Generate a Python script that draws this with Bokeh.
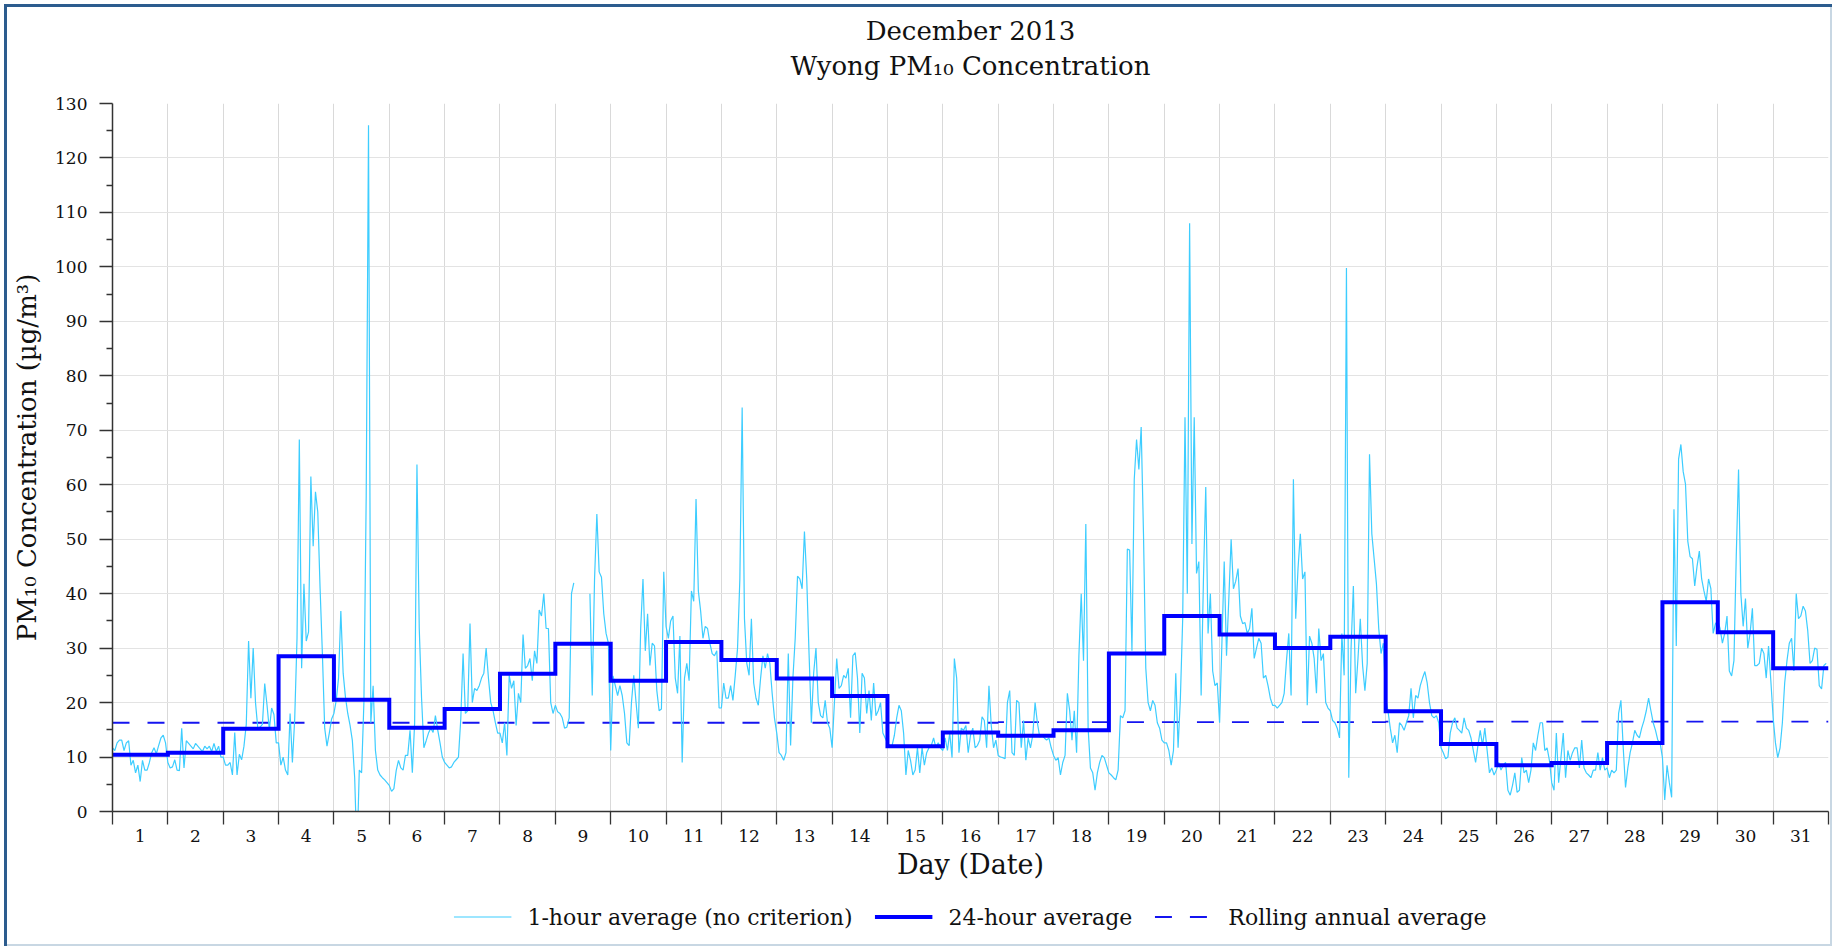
import numpy as np
from bokeh.plotting import figure
from bokeh.layouts import column
from bokeh.models import Range1d, FixedTicker, Legend, LegendItem, Label
from bokeh.embed import file_html
from bokeh.resources import INLINE

nan = float("nan")
FONT = "DejaVu Serif"

title_lines = ["December 2013", "Wyong PM\u2081\u2080 Concentration"]
x_title = "Day (Date)"
y_title = "PM\u2081\u2080 Concentration (\u00b5g/m\u00b3)"
series_names = ["1-hour average (no criterion)", "24-hour average", "Rolling annual average"]

day_labels = ["1", "2", "3", "4", "5", "6", "7", "8", "9", "10", "11", "12", "13", "14", "15", "16",
              "17", "18", "19", "20", "21", "22", "23", "24", "25", "26", "27", "28", "29", "30", "31"]

# 1-hour averages, 24 values per day (µg/m³)
d01 = [11.7, 11.2, 12.6, 13.1, 13.1, 11.2, 12.6, 13.0, 8.5, 9.4, 7.1, 8.5, 5.5, 9.4, 7.6, 7.6, 9.0, 10.8, 11.7, 10.6, 12.1, 13.5, 14.0, 12.6]
d02 = [9.0, 8.0, 8.2, 9.5, 7.6, 7.5, 15.3, 8.0, 13.0, 12.5, 12.0, 11.5, 12.5, 12.0, 11.5, 11.0, 12.0, 11.5, 12.0, 11.0, 12.5, 11.0, 12.0, 10.0]
d03 = [10.0, 8.5, 8.5, 9.0, 6.7, 14.5, 6.7, 10.5, 9.5, 12.0, 16.0, 31.3, 20.8, 30.0, 20.0, 15.3, 15.5, 16.0, 23.5, 19.5, 15.0, 19.0, 17.8, 12.6]
d04 = [12.6, 8.5, 10.0, 7.6, 6.7, 18.0, 9.0, 17.0, 31.8, 68.3, 26.3, 41.8, 31.3, 33.0, 61.5, 48.7, 58.7, 55.0, 41.0, 29.0, 15.3, 12.0, 14.4, 17.0]
d05 = [18.0, 20.4, 24.5, 36.8, 25.4, 21.0, 18.0, 15.8, 13.0, 6.2, -8.0, 7.6, 7.1, 20.0, 58.0, 126.0, 16.3, 23.1, 11.2, 7.6, 6.7, 6.2, 5.8, 5.3]
d06 = [4.8, 3.7, 4.2, 7.5, 9.4, 8.0, 7.6, 10.3, 10.3, 14.9, 7.1, 16.3, 63.7, 33.6, 20.8, 11.7, 13.0, 14.4, 15.3, 14.5, 17.6, 15.0, 12.6, 10.0]
d07 = [9.0, 8.5, 8.0, 8.2, 9.0, 9.5, 10.0, 17.0, 29.0, 18.0, 18.5, 34.5, 20.0, 22.6, 22.2, 23.1, 24.5, 25.4, 30.0, 24.5, 20.0, 18.5, 16.3, 14.4]
d08 = [14.4, 12.6, 16.3, 10.3, 25.0, 22.6, 24.0, 15.8, 21.7, 20.0, 32.5, 26.3, 26.8, 28.1, 24.0, 29.5, 27.2, 37.0, 35.9, 40.0, 33.6, 33.6, 20.0, 18.0]
d09 = [19.5, 18.3, 18.0, 17.2, 15.3, 15.5, 17.2, 40.0, 42.0, nan, nan, nan, nan, nan, nan, 40.0, 21.3, 42.7, 54.6, 44.0, 43.0, 36.3, 32.7, 30.9]
d10 = [11.2, 24.9, 23.1, 21.3, 23.1, 21.3, 18.0, 12.6, 12.1, 20.0, 25.0, 20.0, 15.3, 33.6, 42.7, 29.5, 36.3, 26.8, 30.9, 30.4, 22.2, 18.5, 18.8, 44.0]
d11 = [34.0, 31.8, 35.0, 35.9, 24.5, 21.7, 32.2, 9.0, 24.5, 27.2, 24.0, 40.5, 38.6, 57.4, 40.5, 36.8, 31.8, 34.0, 33.6, 30.9, 29.0, 28.6, 29.5, 19.0]
d12 = [19.0, 23.6, 20.8, 20.8, 23.1, 20.4, 25.0, 30.0, 42.7, 74.2, 35.4, 27.2, 25.0, 35.4, 23.6, 20.8, 19.5, 24.5, 28.6, 26.3, 29.0, 27.2, 21.7, 17.2]
d13 = [14.4, 10.8, 10.3, 9.4, 10.8, 29.0, 12.1, 24.5, 31.8, 43.2, 42.7, 40.9, 51.4, 42.7, 29.0, 16.3, 25.4, 30.0, 20.0, 17.6, 17.2, 20.4, 16.3, 15.3]
d14 = [11.7, 20.0, 28.1, 22.6, 23.1, 25.0, 24.5, 26.3, 17.2, 28.6, 29.2, 24.5, 14.4, 25.4, 24.5, 18.0, 22.2, 16.7, 23.6, 17.6, 18.5, 20.0, 14.4, 13.5]
d15 = [12.6, 12.1, 12.1, 14.0, 17.2, 19.5, 18.5, 14.4, 6.7, 11.2, 9.4, 6.7, 7.6, 11.7, 7.1, 11.7, 8.5, 10.8, 11.7, 12.1, 13.5, 11.7, 12.6, 11.7]
d16 = [11.2, 13.5, 11.2, 14.4, 9.9, 28.1, 24.5, 10.8, 15.3, 14.9, 15.8, 10.8, 14.0, 15.3, 11.7, 12.1, 13.1, 17.4, 16.7, 11.7, 23.1, 15.8, 11.7, 13.1]
d17 = [10.3, 10.0, 9.9, 9.7, 20.0, 22.2, 10.8, 10.3, 20.4, 20.0, 11.7, 16.7, 9.4, 13.5, 11.7, 14.0, 20.0, 16.3, 13.7, 14.0, 13.5, 13.1, 13.5, 11.7]
d18 = [10.3, 9.4, 9.9, 6.7, 9.0, 10.3, 21.7, 18.5, 13.1, 18.5, 10.8, 28.6, 40.0, 27.7, 52.8, 15.3, 8.0, 7.1, 3.9, 7.1, 9.0, 10.3, 9.9, 8.5]
d19 = [7.1, 6.7, 6.2, 5.8, 7.6, 17.6, 17.2, 18.5, 48.2, 48.0, 29.5, 61.0, 68.3, 62.8, 70.6, 51.0, 26.3, 20.0, 18.5, 20.4, 19.5, 16.3, 15.3, 13.1]
d20 = [12.6, 12.6, 11.2, 8.5, 11.2, 25.4, 11.7, 20.8, 35.4, 72.4, 40.0, 108.0, 49.1, 72.4, 43.7, 45.9, 21.3, 42.7, 59.6, 32.7, 40.0, 25.8, 23.1, 23.6]
d21 = [16.3, 30.9, 45.9, 28.6, 39.1, 50.0, 40.9, 42.3, 44.6, 35.9, 34.5, 34.7, 32.7, 33.6, 37.3, 28.1, 30.0, 31.8, 30.9, 24.5, 25.0, 23.1, 20.8, 19.5]
d22 = [19.5, 19.0, 19.5, 20.0, 21.7, 27.7, 32.7, 21.3, 61.0, 35.4, 44.6, 51.0, 42.7, 44.0, 19.5, 32.2, 30.9, 28.1, 21.7, 33.6, 27.7, 29.0, 20.0, 19.0]
d23 = [18.5, 16.7, 16.3, 15.3, 13.5, 32.7, 25.0, 99.8, 6.2, 30.0, 41.4, 21.7, 28.1, 35.4, 26.8, 22.2, 27.2, 65.6, 51.0, 46.4, 41.8, 33.6, 29.0, 30.9]
d24 = [20.8, 18.5, 15.3, 12.6, 14.0, 10.8, 16.3, 15.8, 14.9, 16.3, 17.6, 22.6, 17.2, 21.3, 20.8, 23.1, 24.5, 25.7, 23.6, 20.0, 17.6, 17.2, 17.6, 16.3]
d25 = [11.7, 10.8, 9.7, 10.0, 14.4, 16.3, 17.2, 15.3, 14.9, 14.4, 17.2, 15.3, 14.9, 13.5, 11.2, 9.0, 12.1, 14.9, 12.1, 15.3, 11.2, 7.1, 8.0, 6.7]
d26 = [7.6, 9.0, 7.6, 8.5, 9.0, 3.9, 3.0, 4.8, 7.1, 3.5, 3.9, 9.9, 7.1, 7.6, 5.3, 7.6, 12.6, 11.2, 14.0, 16.3, 16.3, 11.2, 11.7, 9.4]
d27 = [5.3, 3.9, 14.4, 5.3, 9.9, 14.4, 6.2, 11.2, 9.4, 10.8, 11.7, 11.7, 8.0, 13.1, 8.0, 7.1, 6.7, 6.2, 7.6, 7.6, 10.8, 7.6, 9.9, 7.6]
d28 = [8.0, 6.2, 7.6, 7.1, 7.6, 18.0, 20.4, 11.7, 4.4, 8.0, 10.8, 12.6, 14.9, 14.0, 13.5, 15.3, 16.7, 18.5, 20.8, 18.5, 16.3, 14.9, 13.1, 12.6]
d29 = [9.9, 2.1, 8.5, 5.3, 2.6, 55.5, 30.4, 64.7, 67.4, 62.4, 60.1, 49.6, 46.8, 46.4, 41.4, 45.0, 47.8, 42.7, 40.5, 38.6, 42.7, 40.9, 32.7, 34.5]
d30 = [35.0, 33.6, 30.9, 32.7, 35.9, 25.8, 24.9, 27.7, 46.8, 62.8, 40.0, 34.0, 39.1, 30.0, 32.7, 37.3, 26.8, 26.8, 27.2, 30.0, 29.0, 24.5, 30.4, 24.0]
d31 = [17.2, 12.6, 9.9, 11.7, 16.3, 23.6, 27.7, 30.9, 31.8, 25.8, 40.0, 35.4, 35.9, 37.7, 36.8, 33.2, 27.2, 27.7, 30.0, 29.8, 23.1, 22.5, 26.8, 27.2]

# 24-hour averages, one per day
daily_avg = [10.4, 10.8, 15.2, 28.5, 20.5, 15.4, 18.8, 25.3, 30.8, 24.0, 31.1, 27.8, 24.4, 21.2, 12.0, 14.5,
             13.9, 14.9, 29.0, 35.9, 32.5, 30.0, 32.1, 18.4, 12.4, 8.5, 8.9, 12.6, 38.4, 32.9, 26.3]

# rolling annual average, one per day
rolling_annual = [16.3, 16.3, 16.3, 16.3, 16.3, 16.3, 16.3, 16.3, 16.3, 16.3, 16.3, 16.3, 16.3, 16.3, 16.3, 16.3,
                  16.4, 16.4, 16.4, 16.4, 16.4, 16.4, 16.4, 16.5, 16.5, 16.5, 16.5, 16.5, 16.5, 16.5, 16.5]

days = [d01, d02, d03, d04, d05, d06, d07, d08, d09, d10, d11, d12, d13, d14, d15, d16,
        d17, d18, d19, d20, d21, d22, d23, d24, d25, d26, d27, d28, d29, d30, d31]
hourly = np.array([v for d in days for v in d], dtype=float)
x_hour = np.arange(len(hourly)) / 24.0

step_x, step_y = [], []
for i, v in enumerate(daily_avg):
    step_x += [i, i + 1]
    step_y += [v, v]

roll_x, roll_y = [], []
for i, v in enumerate(rolling_annual):
    roll_x += [i, i + 1]
    roll_y += [v, v]

n_days = len(day_labels)

C_HOUR = "#3DCDFF"
C_DAY = "#0000FF"
C_ROLL = "#1414F0"

# ---------------- header (titles) ----------------
HEADER_H = 90
header = figure(width=1834, height=HEADER_H, x_range=Range1d(0, 1), y_range=Range1d(0, 1),
                x_axis_type=None, y_axis_type=None, output_backend="svg", toolbar_location=None,
                min_border=0, outline_line_color=None, title=None,
                background_fill_alpha=0, border_fill_alpha=0)
header.xgrid.visible = False
header.ygrid.visible = False
# the column aligns this frame with the main plot frame (left edge at 112 px)
TITLE_CX = 970 - 112
header.add_layout(Label(x=TITLE_CX, y=HEADER_H - 30, x_units="screen", y_units="screen", text=title_lines[0],
                        text_align="center", text_baseline="alphabetic", text_font=FONT,
                        text_font_size="26px", text_color="#111111"))
header.add_layout(Label(x=TITLE_CX, y=HEADER_H - 65, x_units="screen", y_units="screen", text=title_lines[1],
                        text_align="center", text_baseline="alphabetic", text_font=FONT,
                        text_font_size="26px", text_color="#111111"))

# ---------------- main plot ----------------
p = figure(width=1834, height=796,
           x_range=Range1d(0, n_days), y_range=Range1d(0, 130),
           output_backend="svg", toolbar_location=None, title=None,
           min_border_left=112, min_border_right=6, min_border_top=13, min_border_bottom=75,
           background_fill_color="white", border_fill_alpha=0,
           outline_line_color=None)

xa = p.xaxis[0]
xa.ticker = FixedTicker(ticks=[i + 0.5 for i in range(n_days)], minor_ticks=list(range(n_days + 1)))
xa.major_label_overrides = {i + 0.5: day_labels[i] for i in range(n_days)}
xa.major_tick_line_color = None
xa.major_tick_out = 13
xa.major_tick_in = 0
xa.minor_tick_out = 13
xa.minor_tick_in = 0
xa.minor_tick_line_color = "#333333"
xa.minor_tick_line_width = 1.3
xa.axis_line_color = "#333333"
xa.axis_line_width = 1.5
xa.major_label_standoff = 5
xa.major_label_text_font = FONT
xa.major_label_text_font_size = "17px"
xa.major_label_text_color = "#111111"
xa.axis_label = x_title
xa.axis_label_text_font = FONT
xa.axis_label_text_font_size = "27px"
xa.axis_label_text_font_style = "normal"
xa.axis_label_text_color = "#111111"
xa.axis_label_standoff = 4

ya = p.yaxis[0]
ya.ticker = FixedTicker(ticks=list(range(0, 131, 10)), minor_ticks=list(range(5, 130, 10)))
ya.major_tick_out = 13
ya.major_tick_in = 0
ya.minor_tick_out = 6
ya.minor_tick_in = 0
ya.major_tick_line_color = "#333333"
ya.minor_tick_line_color = "#333333"
ya.major_tick_line_width = 1.3
ya.minor_tick_line_width = 1.3
ya.axis_line_color = "#333333"
ya.axis_line_width = 1.5
ya.major_label_standoff = 12
ya.major_label_text_font = FONT
ya.major_label_text_font_size = "17px"
ya.major_label_text_color = "#111111"
ya.axis_label = y_title
ya.axis_label_text_font = FONT
ya.axis_label_text_font_size = "26px"
ya.axis_label_text_font_style = "normal"
ya.axis_label_text_color = "#111111"
ya.axis_label_standoff = 10

p.xgrid.ticker = FixedTicker(ticks=list(range(n_days + 1)))
p.xgrid.grid_line_color = "#D9D9D9"
p.ygrid.grid_line_color = "#E3E3E3"

p.line(roll_x, roll_y, line_color=C_ROLL, line_width=1.8, line_dash="17 18")
p.line(x_hour, hourly, line_color=C_HOUR, line_width=1.2)
p.line(step_x, step_y, line_color=C_DAY, line_width=4, line_join="miter")

# ---------------- legend strip ----------------
leg = figure(width=1834, height=947 - HEADER_H - 796, x_range=Range1d(0, 1), y_range=Range1d(0, 1),
             x_axis_type=None, y_axis_type=None, output_backend="svg", toolbar_location=None,
             min_border_left=112, min_border_right=6, min_border_top=0, min_border_bottom=0,
             outline_line_color=None, title=None, background_fill_alpha=0, border_fill_alpha=0)
leg.xgrid.visible = False
leg.ygrid.visible = False
# legend proxies (single point each, so nothing is drawn in the strip itself)
k1 = leg.line(x=[0.5], y=[0.5], line_color=C_HOUR, line_width=1.2)
k2 = leg.line(x=[0.5], y=[0.5], line_color=C_DAY, line_width=4)
k3 = leg.line(x=[0.5], y=[0.5], line_color=C_ROLL, line_width=1.8, line_dash="17 18")
legend = Legend(items=[LegendItem(label=series_names[0], renderers=[k1]),
                       LegendItem(label=series_names[1], renderers=[k2]),
                       LegendItem(label=series_names[2], renderers=[k3])],
                orientation="horizontal", location="center",
                glyph_width=58, glyph_height=22, label_standoff=16, spacing=22,
                border_line_color=None, background_fill_alpha=0,
                label_text_font=FONT, label_text_font_size="22px", label_text_color="#111111",
                margin=0, padding=6)
leg.add_layout(legend, "center")

layout = column(header, p, leg, spacing=0,
                styles={"background-color": "#FFFFFF",
                        "box-shadow": ("inset 4px 4px 0 0 #FFFFFF, inset -2px -1px 0 0 #FFFFFF, "
                                       "inset 7px 7px 0 0 #2C5C8E, inset -4px -3px 0 0 #C8D7E3")})

open("out.html", "w").write(file_html(layout, INLINE))
